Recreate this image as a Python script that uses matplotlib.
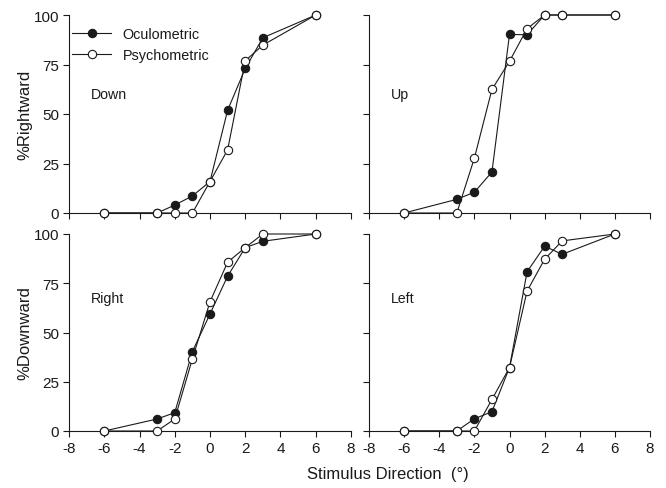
import numpy as np
import matplotlib
matplotlib.use('Agg')
from matplotlib import pyplot as plt

plt.rcParams['font.family'] = ['Liberation Sans', 'DejaVu Sans']
plt.rcParams['axes.unicode_minus'] = False

# stimulus directions (deg)
stim = [-6, -3, -2, -1, 0, 1, 2, 3, 6]

# % responses for each condition, oculometric (filled) and psychometric (open)
down_oculo = [0, 0, 4, 8.6, 15.9, 51.9, 73, 88.5, 100]
down_psycho = [0, 0, 0, 0, 15.9, 31.9, 76.9, 84.8, 100]

up_oculo = [0, 6.9, 10.5, 20.7, 90.2, 90.0, 100, 100, 100]
up_psycho = [0, 0, 27.7, 62.4, 76.6, 93.1, 100, 100, 100]

right_oculo = [0, 6.1, 9.3, 40.3, 59.4, 78.6, 93.1, 96.3, 100]
right_psycho = [0, 0, 6.1, 36.6, 65.6, 85.7, 93.1, 100, 100]

left_oculo = [0, 0, 6.2, 9.8, 32.2, 80.8, 93.8, 89.7, 100]
left_psycho = [0, 0, 0, 16.0, 32.2, 71.0, 87.2, 96.5, 100]

panels = [
    ('Down', down_oculo, down_psycho),
    ('Up', up_oculo, up_psycho),
    ('Right', right_oculo, right_psycho),
    ('Left', left_oculo, left_psycho),
]

ink = '#1a1a1a'

fig = plt.figure(figsize=(6.66, 4.89), dpi=100)
W, H = 666.0, 489.0
# axes boxes in pixels: left, top, width, height
boxes = [
    (69, 16, 282, 198),
    (369, 16, 281, 198),
    (69, 235, 282, 197),
    (369, 235, 281, 197),
]

axes = []
for i, (name, oc, ps) in enumerate(panels):
    x0, y0, w, h = boxes[i]
    ax = fig.add_axes([x0 / W, 1 - (y0 + h) / H, w / W, h / H])
    ax.plot(stim, oc, '-o', color=ink, lw=0.8, ms=6, mfc=ink, mec=ink,
            mew=0.8, clip_on=False, zorder=3, label='Oculometric')
    ax.plot(stim, ps, '-o', color=ink, lw=0.8, ms=6, mfc='white', mec=ink,
            mew=0.8, clip_on=False, zorder=4, label='Psychometric')
    ax.set_xlim(-8, 8)
    ax.set_ylim(0, 100)
    ax.set_xticks(np.arange(-8, 9, 2))
    ax.set_yticks([0, 25, 50, 75, 100])
    for s in ['top', 'right']:
        ax.spines[s].set_visible(False)
    for s in ['left', 'bottom']:
        ax.spines[s].set_color(ink)
        ax.spines[s].set_linewidth(0.8)
    ax.tick_params(direction='out', length=4, width=0.8, color=ink,
                   labelcolor=ink, labelsize=11, pad=3)
    if i < 2:
        ax.tick_params(labelbottom=False)
    if i % 2 == 1:
        ax.tick_params(labelleft=False)
    ty = 60 if i < 2 else 67.5
    ax.text(-6.75, ty, name, fontsize=10.2, color=ink, va='center', ha='left')
    axes.append(ax)

leg = axes[0].legend(loc='upper left', bbox_to_anchor=(-0.02, 0.985),
                     frameon=False, fontsize=10.4, handlelength=2.7,
                     handletextpad=0.8, labelspacing=0.5, borderaxespad=0.2,
                     labelcolor=ink)

fig.text(25 / W, 1 - 115 / H, '%Rightward', fontsize=12, color=ink,
         rotation=90, ha='center', va='center')
fig.text(25 / W, 1 - 333 / H, '%Downward', fontsize=12, color=ink,
         rotation=90, ha='center', va='center')
fig.text(388 / W, 1 - 475 / H, 'Stimulus Direction  (\u00b0)', fontsize=12,
         color=ink, ha='center', va='center')

fig.savefig('out.png', dpi=100)
